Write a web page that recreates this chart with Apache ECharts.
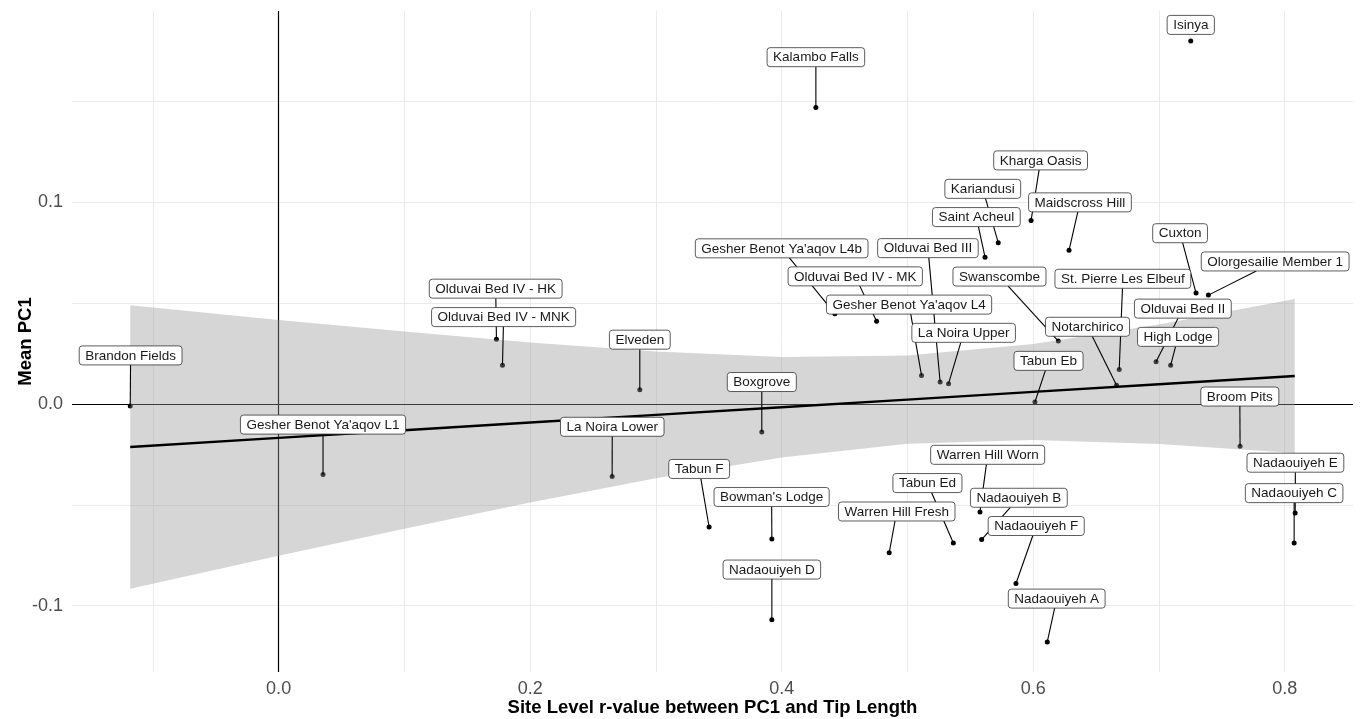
<!DOCTYPE html>
<html>
<head>
<meta charset="utf-8">
<title>Mean PC1 vs site level r-value</title>
<script src="https://cdn.jsdelivr.net/npm/echarts@6/dist/echarts.min.js"></script>
<style>
  html, body { margin: 0; padding: 0; background: #fff; }
  #main { width: 1361px; height: 719px; }
</style>
</head>
<body>
<div id="main"></div>
<script>
const sites = [
  'Brandon Fields', "Gesher Benot Ya'aqov L1", 'Olduvai Bed IV - HK', 'Olduvai Bed IV - MNK',
  'Elveden', 'La Noira Lower', 'Boxgrove', 'Tabun F', "Bowman's Lodge", 'Nadaouiyeh D',
  'Kalambo Falls', "Gesher Benot Ya'aqov L4b", 'Olduvai Bed IV - MK', "Gesher Benot Ya'aqov L4",
  'Olduvai Bed III', 'La Noira Upper', 'Warren Hill Fresh', 'Tabun Ed', 'Warren Hill Worn',
  'Nadaouiyeh B', 'Nadaouiyeh F', 'Nadaouiyeh A', 'Kariandusi', 'Saint Acheul', 'Kharga Oasis',
  'Maidscross Hill', 'Swanscombe', 'St. Pierre Les Elbeuf', 'Notarchirico', 'Tabun Eb', 'Isinya',
  'Cuxton', 'Olorgesailie Member 1', 'Olduvai Bed II', 'High Lodge', 'Broom Pits',
  'Nadaouiyeh E', 'Nadaouiyeh C',
]
const rValue = [
  -0.118, 0.0353, 0.1732, 0.178, 0.2872, 0.2652, 0.3842, 0.3423, 0.3922, 0.3922,
  0.4272, 0.4423, 0.4755, 0.5112, 0.526, 0.5327, 0.4855, 0.5365, 0.5577, 0.559,
  0.5863, 0.6112, 0.5722, 0.5617, 0.5983, 0.6285, 0.62, 0.6684, 0.6663, 0.6014,
  0.7253, 0.7295, 0.7393, 0.6977, 0.7093, 0.7645, 0.8083, 0.8075,
]
const meanPC1 = [
  -0.001, -0.035, 0.0321, 0.0192, 0.0071, -0.036, -0.0139, -0.061, -0.067, -0.107,
  0.147, 0.0448, 0.041, 0.0142, 0.0109, 0.0101, -0.0738, -0.0689, -0.0535, -0.0672,
  -0.089, -0.118, 0.08, 0.0728, 0.091, 0.0762, 0.0312, 0.0171, 0.0093, 0.001,
  0.18, 0.055, 0.054, 0.021, 0.0192, -0.021, -0.054, -0.0689,
]
// where the repelled label boxes sit (centre, data units)
const labelX = [
  -0.1177, 0.0353, 0.1726, 0.1789, 0.2872, 0.2653, 0.3842, 0.3344, 0.392, 0.3922,
  0.4272, 0.4, 0.4585, 0.5013, 0.5163, 0.5447, 0.4915, 0.5159, 0.5638, 0.5886,
  0.6024, 0.6187, 0.5599, 0.5548, 0.6059, 0.6372, 0.5732, 0.6713, 0.6432, 0.6122,
  0.7253, 0.7168, 0.7924, 0.719, 0.7152, 0.7643, 0.8085, 0.8075,
]
const labelY = [
  0.0241, -0.0102, 0.0572, 0.0431, 0.0319, -0.0113, 0.0109, -0.0322, -0.0461, -0.0821,
  0.172, 0.0772, 0.0633, 0.0493, 0.0773, 0.0353, -0.0533, -0.0392, -0.0252, -0.0465,
  -0.0605, -0.0965, 0.1067, 0.0927, 0.1208, 0.1, 0.0632, 0.0621, 0.0383, 0.0214,
  0.188, 0.0847, 0.0707, 0.0473, 0.0333, 0.0037, -0.0291, -0.0442,
]

// linear fit and its confidence band
const fitX = [-0.118, 0, 0.1, 0.2, 0.3, 0.4, 0.5, 0.6, 0.7, 0.808]
const fitY = [-0.0213, -0.0168, -0.013, -0.0092, -0.0054, -0.0016, 0.0022, 0.006, 0.0098, 0.0139]
const bandHigh = [0.049, 0.0417, 0.0359, 0.0305, 0.026, 0.0233, 0.0241, 0.0298, 0.0394, 0.0521]
const bandLow = [-0.0916, -0.0753, -0.0619, -0.0489, -0.0368, -0.0265, -0.0197, -0.0178, -0.0198, -0.0243]

const xTicks = [0, 0.2, 0.4, 0.6, 0.8]
const xGrid = [-0.1, 0, 0.1, 0.2, 0.3, 0.4, 0.5, 0.6, 0.7, 0.8]
const yTicks = [-0.1, 0, 0.1]
const yGrid = [-0.1, -0.05, 0, 0.05, 0.1, 0.15]

const FONT = '"Liberation Sans", Arial, sans-serif'
const LABEL_FONT = '13.5px ' + FONT
const BOX_H = 19

// measure label text so the segments stop at the box edge
const ctx = document.createElement('canvas').getContext('2d')
ctx.font = LABEL_FONT
const boxW = sites.map((s) => ctx.measureText(s).width + 12)

const siteData = sites.map((s, i) => [rValue[i], meanPC1[i], labelX[i], labelY[i], s])

const myChart = echarts.init(document.getElementById('main'), null, { renderer: 'canvas' })

const option = {
  backgroundColor: '#ffffff',
  animation: false,
  grid: {
    left: 72,
    right: 8,
    top: 11,
    bottom: 47,
    outerBoundsMode: 'none',
  },
  xAxis: {
    type: 'value',
    min: -0.1643,
    max: 0.8543,
    name: 'Site Level r-value between PC1 and Tip Length',
    nameLocation: 'middle',
    nameGap: 26,
    nameMoveOverlap: false,
    nameTextStyle: { color: '#000', fontSize: 18.5, fontWeight: 'bold', fontFamily: FONT },
    axisLine: { show: false },
    axisTick: { show: false, customValues: xGrid },
    axisLabel: {
      customValues: xTicks,
      formatter: (v) => v.toFixed(1),
      color: '#4d4d4d',
      fontSize: 18,
      fontFamily: FONT,
      margin: 8,
    },
    splitLine: { show: true, lineStyle: { color: '#ebebeb', width: 1 } },
  },
  yAxis: {
    type: 'value',
    min: -0.1329,
    max: 0.1949,
    name: 'Mean PC1',
    nameLocation: 'middle',
    nameGap: 37,
    nameRotate: 90,
    nameMoveOverlap: false,
    nameTextStyle: { color: '#000', fontSize: 18.5, fontWeight: 'bold', fontFamily: FONT },
    axisLine: { show: false },
    axisTick: { show: false, customValues: yGrid },
    axisLabel: {
      customValues: yTicks,
      formatter: (v) => v.toFixed(1),
      color: '#4d4d4d',
      fontSize: 18,
      fontFamily: FONT,
      margin: 9,
    },
    splitLine: { show: true, lineStyle: { color: '#ebebeb', width: 1 } },
  },
  series: [
    {
      type: 'scatter',
      z: 2,
      data: siteData.map((d) => [d[0], d[1]]),
      symbolSize: 5,
      itemStyle: { color: '#000', opacity: 1 },
      silent: true,
      markLine: {
        z: 2,
        silent: true,
        symbol: 'none',
        label: { show: false },
        lineStyle: { color: '#000', width: 1.2, type: 'solid' },
        data: [{ xAxis: 0 }, { yAxis: 0 }],
      },
    },
    {
      // confidence band, drawn over points like geom_smooth
      type: 'custom',
      z: 3,
      silent: true,
      clip: false,
      data: [[0, 0]],
      renderItem: function (params, api) {
        const pts = []
        fitX.forEach((x, i) => pts.push(api.coord([x, bandHigh[i]])))
        for (let i = fitX.length - 1; i >= 0; i--) pts.push(api.coord([fitX[i], bandLow[i]]))
        return { type: 'polygon', shape: { points: pts }, style: { fill: 'rgba(153,153,153,0.4)' } }
      },
    },
    {
      type: 'line',
      z: 4,
      silent: true,
      data: fitX.map((x, i) => [x, fitY[i]]),
      symbol: 'none',
      lineStyle: { color: '#000', width: 2.4 },
    },
    {
      // label segments
      type: 'custom',
      z: 5,
      silent: true,
      clip: false,
      data: siteData,
      renderItem: function (params, api) {
        const i = params.dataIndex
        const p = api.coord([api.value(0), api.value(1)])
        const c = api.coord([api.value(2), api.value(3)])
        const dx = p[0] - c[0]
        const dy = p[1] - c[1]
        const tx = dx ? boxW[i] / 2 / Math.abs(dx) : Infinity
        const ty = dy ? BOX_H / 2 / Math.abs(dy) : Infinity
        const t = Math.min(tx, ty)
        if (t >= 1) return
        const sx = c[0] + dx * t
        const sy = c[1] + dy * t
        if (Math.hypot(p[0] - sx, p[1] - sy) < 8) return
        return {
          type: 'line',
          shape: { x1: sx, y1: sy, x2: p[0], y2: p[1] },
          style: { stroke: '#000', lineWidth: 1.1 },
        }
      },
    },
    {
      // label boxes
      type: 'custom',
      z: 6,
      silent: true,
      clip: false,
      data: siteData,
      renderItem: function (params, api) {
        const i = params.dataIndex
        const c = api.coord([api.value(2), api.value(3)])
        const w = boxW[i]
        return {
          type: 'group',
          children: [
            {
              type: 'rect',
              shape: { x: c[0] - w / 2, y: c[1] - BOX_H / 2, width: w, height: BOX_H, r: 3 },
              style: { fill: '#fff', stroke: '#333', lineWidth: 0.8 },
            },
            {
              type: 'text',
              style: {
                x: c[0],
                y: c[1] + 0.5,
                text: sites[i],
                font: LABEL_FONT,
                fill: '#1a1a1a',
                align: 'center',
                verticalAlign: 'middle',
              },
            },
          ],
        }
      },
    },
  ],
}

option && myChart.setOption(option)
window.addEventListener('resize', function () {
  myChart.resize()
})
</script>
</body>
</html>
